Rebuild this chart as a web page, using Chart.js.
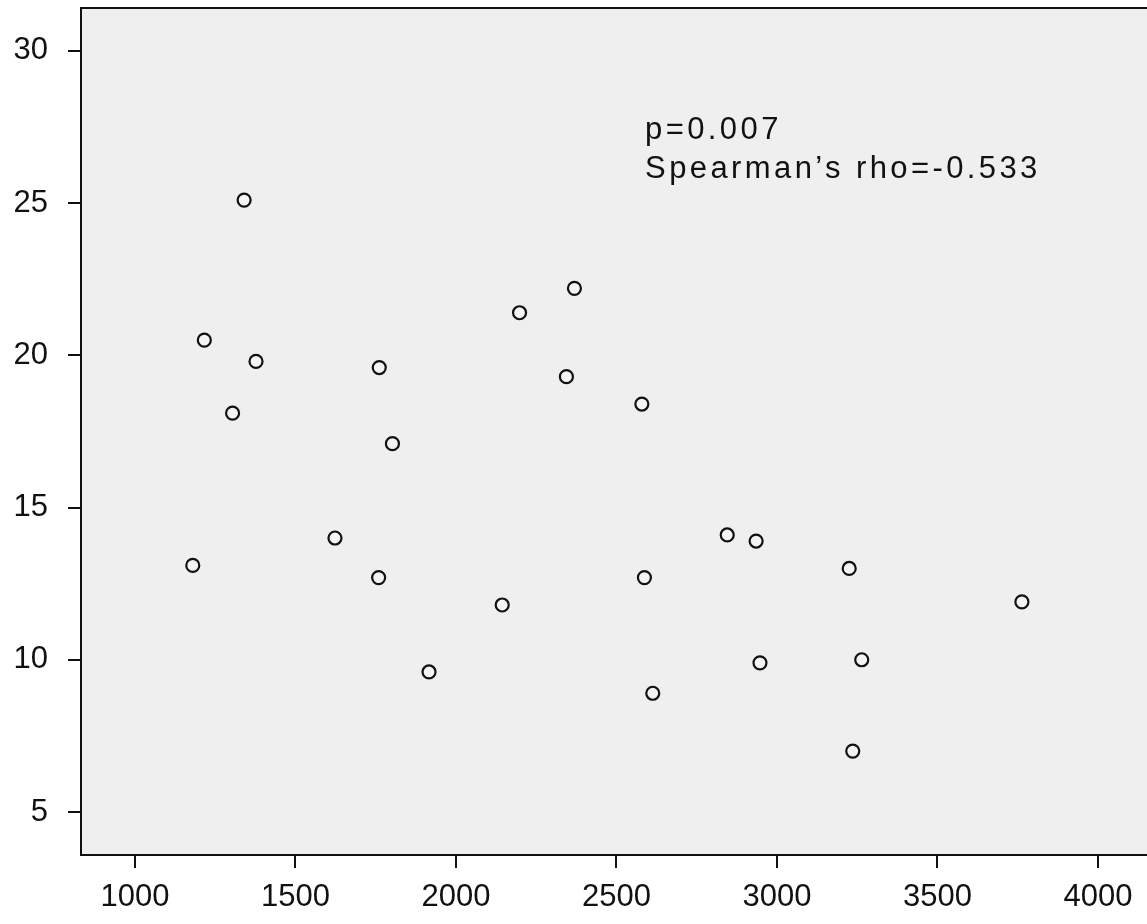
<!DOCTYPE html>
<html lang="en">
<head>
    <meta charset="UTF-8">
    <title>Spearman scatter</title>
    <script src="https://cdn.jsdelivr.net/npm/chart.js"></script>
    <style>
        body { margin: 0; background: #fff; }
        #box { width: 1147px; height: 924px; }
    </style>
</head>
<body>
    <div id="box">
        <canvas id="grafico" width="1147" height="924"></canvas>
    </div>

    <script>
        // valores
        const valoresX = [1340, 1216, 1377, 1304, 1180, 1761, 1802, 1623, 1759, 1916, 2144, 2198,
                          2369, 2344, 2579, 2587, 2613, 2845, 2935, 2947, 3225, 3264, 3236, 3763];
        const valoresY = [25.1, 20.5, 19.8, 18.1, 13.1, 19.6, 17.1, 14.0, 12.7, 9.6, 11.8, 21.4,
                          22.2, 19.3, 18.4, 12.7, 8.9, 14.1, 13.9, 9.9, 13.0, 10.0, 7.0, 11.9];
        const ticksX = [1000, 1500, 2000, 2500, 3000, 3500, 4000];
        const ticksY = [5, 10, 15, 20, 25, 30];
        const textos = ['p=0.007', 'Spearman\u2019s rho=-0.533'];

        const pontos = valoresX.map((x, i) => ({ x: x, y: valoresY[i] }));
        const familia = "'Liberation Sans', Arial, sans-serif";
        const fonte = { family: familia, size: 31 };

        // fundo cinza da área do gráfico + borda de cima + texto
        const fundo = {
            id: 'fundo',
            beforeDraw(chart) {
                const { ctx, chartArea: a } = chart;
                ctx.save();
                ctx.fillStyle = '#efefef';
                ctx.fillRect(a.left, a.top, a.right - a.left, a.bottom - a.top);
                ctx.strokeStyle = '#111';
                ctx.lineWidth = 2;
                ctx.beginPath();
                ctx.moveTo(a.left, a.top);
                ctx.lineTo(a.right, a.top);
                ctx.stroke();
                ctx.restore();
            },
            afterDatasetsDraw(chart) {
                const { ctx, scales } = chart;
                ctx.save();
                ctx.fillStyle = '#111';
                ctx.font = '31px ' + familia;
                ctx.letterSpacing = '3.4px';
                ctx.textBaseline = 'alphabetic';
                ctx.textAlign = 'left';
                const x = scales.x.getPixelForValue(2589);
                ctx.fillText(textos[0], x, scales.y.getPixelForValue(27.10));
                ctx.fillText(textos[1], x, scales.y.getPixelForValue(25.84));
                ctx.restore();
            }
        };

        new Chart(document.getElementById('grafico'), {
            type: 'scatter',
            data: {
                datasets: [{
                    data: pontos,
                    pointRadius: 6.5,
                    pointHoverRadius: 6.5,
                    borderWidth: 2.2,
                    borderColor: '#111',
                    backgroundColor: '#f4f4f4'
                }]
            },
            options: {
                responsive: false,
                animation: false,
                layout: { autoPadding: false, padding: { top: 8, right: 0, left: 0, bottom: 0 } },
                plugins: {
                    legend: { display: false },
                    tooltip: { enabled: false }
                },
                scales: {
                    x: {
                        min: 831.8,
                        max: 4152.7,
                        afterBuildTicks: s => { s.ticks = ticksX.map(v => ({ value: v })); },
                        afterFit: s => {
                            s.height = 69;
                            s.paddingLeft = 0;
                            s.paddingRight = 0;
                        },
                        border: { color: '#111', width: 2 },
                        grid: { drawOnChartArea: false, drawTicks: true, tickLength: 13, color: '#111', lineWidth: 2 },
                        ticks: { color: '#111', font: fonte, padding: 11, maxRotation: 0, callback: v => String(v) }
                    },
                    y: {
                        min: 3.587,
                        max: 31.41,
                        afterBuildTicks: s => { s.ticks = ticksY.map(v => ({ value: v })); },
                        afterFit: s => {
                            s.width = 81;
                            s.paddingTop = 0;
                            s.paddingBottom = 0;
                        },
                        border: { color: '#111', width: 2 },
                        grid: { drawOnChartArea: false, drawTicks: true, tickLength: 13, color: '#111', lineWidth: 2 },
                        ticks: { color: '#111', font: fonte, padding: 20, callback: v => String(v) }
                    }
                }
            },
            plugins: [fundo]
        });
    </script>
</body>
</html>
